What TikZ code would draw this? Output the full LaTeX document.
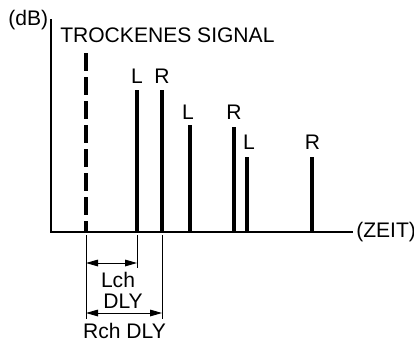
\documentclass[tikz,border=0pt]{standalone}
\usepackage{fontspec}
\setmainfont{Liberation Sans}
\usetikzlibrary{arrows.meta}

\begin{document}
\begin{tikzpicture}[x=0.75pt, y=-0.75pt,
  lbl/.style={font=\fontsize{15.8}{17}\selectfont, inner sep=0pt},
  axis/.style={line width=1.5pt},
  bar/.style={line width=2.3pt},
  dry/.style={line width=2.3pt, dash pattern=on 13.5pt off 4.5pt},
  dim/.style={line width=0.7pt},
  dimarrow/.style={dim, {Triangle[length=9pt, width=5pt]}-{Triangle[length=9pt, width=5pt]}}
]
  \useasboundingbox (0,0) rectangle (414,343);

  % axes
  \coordinate (origin) at (51,232);
  \coordinate (ytop) at (51,19);
  \coordinate (xend) at (353,232);
  \draw[axis] (ytop) -- (origin) -- (xend);
  \node[lbl, anchor=east] (dB) at (48.5,20) {(dB)};
  \node[lbl, anchor=west] (zeit) at (356,232) {(ZEIT)};

  % direct signal
  \coordinate (dtop) at (86,53);
  \coordinate (dbase) at (86,232);
  \draw[dry] (dtop) -- (dbase);
  \node[lbl, anchor=west] (dry) at (60,35.5) {TROCKENES SIGNAL};

  % reflections
  \foreach \name/\x/\top/\lab/\lx/\ly in {
      l1/137/90/L/137/76.5,
      r1/162/90/R/162/76.5,
      l2/190/125/L/188/112,
      r2/234/127/R/234/112,
      l3/247/157/L/249/142,
      r3/312/157/R/312.5/142}{
    \coordinate (b\name) at (\x,232);
    \coordinate (t\name) at (\x,\top);
    \draw[bar] (b\name) -- (t\name);
    \node[lbl] (n\name) at (\lx,\ly) {\lab};
  }

  % delay dimensions
  \coordinate (e0) at (86,319);
  \coordinate (e1) at (137,268);
  \coordinate (e2) at (162,319);
  \draw[dim] ([yshift=-2.5pt]dbase) -- (e0);
  \draw[dim] ([yshift=-2.5pt]bl1) -- (e1);
  \draw[dim] ([yshift=-2.5pt]br1) -- (e2);
  \coordinate (la) at (86,263);
  \coordinate (lb) at (137,263);
  \coordinate (ra) at (86,313);
  \coordinate (rb) at (162,313);
  \draw[dimarrow] (la) -- (lb);
  \draw[dimarrow] (ra) -- (rb);
  \node[lbl] (lch) at (118,279.5) {Lch};
  \node[lbl] (ldly) at (123,301) {DLY};
  \node[lbl] (rch) at (124.5,330.5) {Rch DLY};
\end{tikzpicture}
\end{document}
